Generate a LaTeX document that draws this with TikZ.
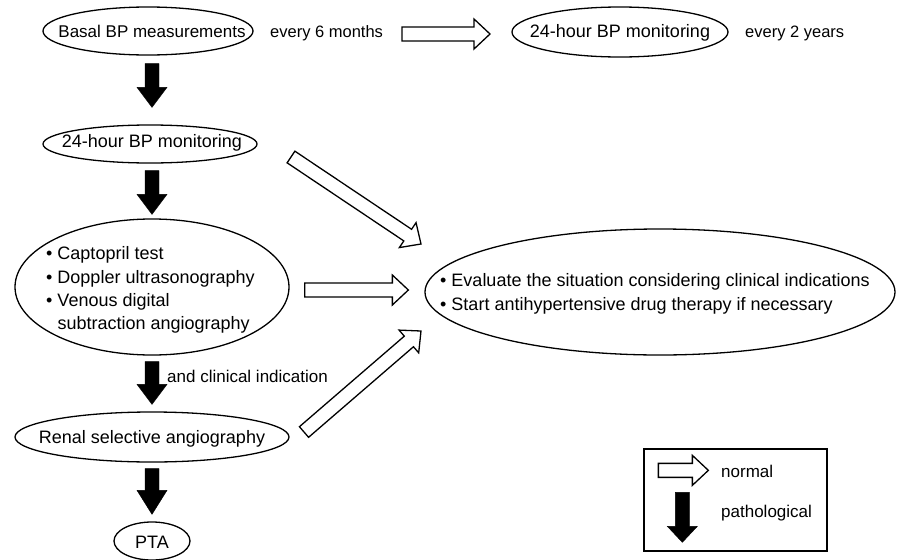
\documentclass[tikz,border=0pt]{standalone}
\usepackage{fontspec}
\setmainfont{Liberation Sans}
\usetikzlibrary{shapes.geometric,calc}
\tikzset{
  ell/.style={ellipse, draw, inner sep=0pt, line width=1.3pt},
  txt/.style={inner sep=0pt, anchor=base west},
  ctxt/.style={inner sep=0pt, anchor=base},
  small/.style={font=\fontsize{17}{21}\selectfont},
  smaller/.style={font=\fontsize{16.5}{20}\selectfont},
  openarrow/.style={draw, fill=white, line width=1.3pt, line join=miter},
  blackarrow/.style={draw, fill=black, line width=0.4pt, line join=miter},
}
% #1 style, #2 half shaft width, #3 half head width, #4 head length, #5 from, #6 to
\newcommand{\fatarrow}[6]{%
  \draw[#1] let \p1=(#5), \p2=(#6), \n1={atan2(\y2-\y1,\x2-\x1)} in
    ($(\p1)+(\n1+90:#2)$) -- ($(\p2)+(\n1+180:#4)+(\n1+90:#2)$)
    -- ($(\p2)+(\n1+180:#4)+(\n1+90:#3)$) -- (\p2)
    -- ($(\p2)+(\n1+180:#4)+(\n1-90:#3)$) -- ($(\p2)+(\n1+180:#4)+(\n1-90:#2)$)
    -- ($(\p1)+(\n1-90:#2)$) -- cycle;}
\newcommand{\openarr}[2]{\fatarrow{openarrow}{7pt}{15pt}{16pt}{#1}{#2}}
\newcommand{\blackarr}[3][20pt]{\fatarrow{blackarrow}{7pt}{15pt}{#1}{#2}{#3}}
\begin{document}
\begin{tikzpicture}[x=1pt,y=-1pt,font=\fontsize{18}{23}\selectfont]
\fill[white] (0,0) rectangle (898,560);
\useasboundingbox (0,0) rectangle (898,560);

% ellipses
\node[ell, minimum width=210pt, minimum height=48pt] (e1) at (148,31) {};
\node[ell, minimum width=216pt, minimum height=50pt] (e2) at (620,32) {};
\node[ell, minimum width=214pt, minimum height=38pt] (e3) at (150,144) {};
\node[ell, minimum width=274pt, minimum height=136pt] (e4) at (152,287) {};
\node[ell, minimum width=274pt, minimum height=50pt] (e5) at (152,437) {};
\node[ell, minimum width=76pt, minimum height=38pt] (e6) at (152,541) {};
\node[ell, minimum width=470pt, minimum height=126pt] (e7) at (660,292) {};

% texts
\node[ctxt, small] (t1) at (152,37) {Basal BP measurements};
\node[txt, smaller] (t6m) at (270,37) {every 6 months};
\node[ctxt] (t2) at (620,37) {24-hour BP monitoring};
\node[txt, smaller] (t2y) at (745,37) {every 2 years};
\node[ctxt] (t3) at (152,147) {24-hour BP monitoring};
\node[txt] (l1) at (46,259) {• Captopril test};
\node[txt] (l2) at (46,283) {• Doppler ultrasonography};
\node[txt] (l3) at (46,306) {• Venous digital};
\node[txt] (l4) at (46,329) {\phantom{• }subtraction angiography};
\node[txt, small] (tci) at (167,382) {and clinical indication};
\node[ctxt] (t5) at (152,443) {Renal selective angiography};
\node[ctxt] (t6) at (152,548) {PTA};
\node[txt] (r1) at (440,286) {• Evaluate the situation considering clinical indications};
\node[txt] (r2) at (440,310) {• Start antihypertensive drug therapy if necessary};

% connector end points
\coordinate (h1s) at (402,34);
\coordinate (h1e) at (490,34);
\coordinate (d1s) at (291,157);
\coordinate (d1e) at (421,244);
\coordinate (h2s) at ($(e4.east)+(15,3)$);
\coordinate (h2e) at ($(e7.west)+(-16,-2)$);
\coordinate (d2s) at (304,432);
\coordinate (d2e) at (421,331);
\coordinate (a1s) at ($(e1.south)+(4,8)$);
\coordinate (a1e) at ($(e3.north)+(2,-17)$);
\coordinate (a2s) at ($(e3.south)+(2,7)$);
\coordinate (a2e) at ($(e4.north)+(0,-4)$);
\coordinate (a3s) at ($(e4.south)+(0,6)$);
\coordinate (a3e) at ($(e5.north)+(0,-7)$);
\coordinate (a4s) at ($(e5.south)+(0,6)$);
\coordinate (a4e) at ($(e6.north)+(0,-7)$);

% normal (open) arrows
\openarr{h1s}{h1e}
\openarr{d1s}{d1e}
\openarr{h2s}{h2e}
\openarr{d2s}{d2e}

% pathological (black) arrows
\blackarr{a1s}{a1e}
\blackarr{a2s}{a2e}
\blackarr{a3s}{a3e}
\blackarr[24pt]{a4s}{a4e}

% legend
\node[draw, line width=1.3pt, minimum width=183pt, minimum height=102pt, inner sep=0pt] (leg) at (735.5,500) {};
\coordinate (ln1) at ($(leg.north west)+(15,22)$);
\coordinate (ln2) at ($(leg.north west)+(65,22)$);
\coordinate (lp1) at ($(leg.north west)+(39,44)$);
\coordinate (lp2) at ($(leg.north west)+(39,94)$);
\openarr{ln1}{ln2}
\blackarr[16pt]{lp1}{lp2}
\node[txt, small] (ln) at (721,477) {normal};
\node[txt, small] (lp) at (721,517) {pathological};
\end{tikzpicture}
\end{document}
